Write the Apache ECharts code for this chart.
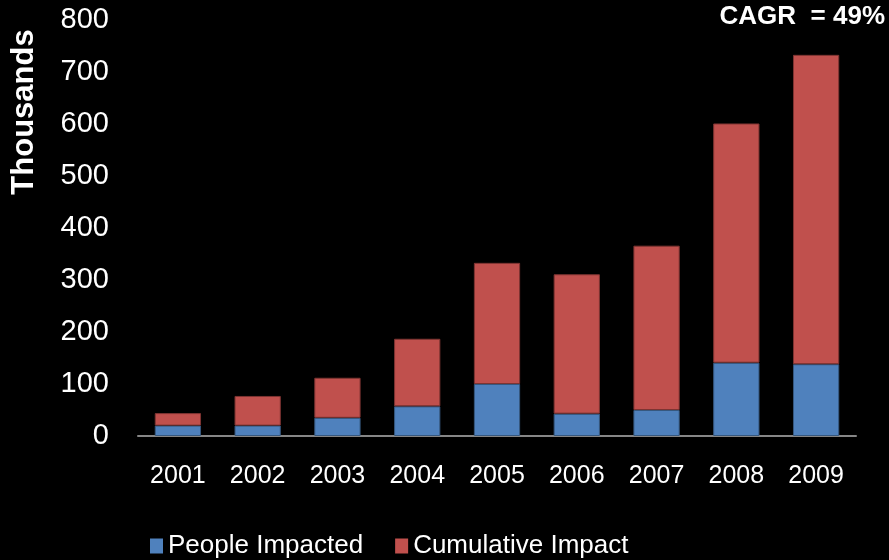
<!DOCTYPE html>
<html>
<head>
<meta charset="utf-8">
<script src="https://cdn.jsdelivr.net/npm/echarts@6/dist/echarts.min.js"></script>
<style>
  html, body { margin: 0; padding: 0; background: #000; }
  #chart { width: 889px; height: 560px; }
</style>
</head>
<body>
<div id="chart"></div>
<script>
// Years on the category axis
const years = ['2001', '2002', '2003', '2004', '2005', '2006', '2007', '2008', '2009'];
// People impacted each year (thousands)
const peopleImpacted = [20, 20, 35, 57, 100, 43, 50, 141, 138];
// Stacked cumulative impact segment (thousands)
const cumulativeImpact = [24, 57, 77, 130, 233, 268, 316, 460, 595];
// Value-axis range
const yMin = 0, yMax = 800, yStep = 100;

const font = 'Liberation Sans, Arial, sans-serif';
const chart = echarts.init(document.getElementById('chart'));

chart.setOption({
  backgroundColor: '#000',
  animation: false,
  textStyle: { fontFamily: font, color: '#fff' },
  grid: { left: 138, right: 33, top: 20, bottom: 124, outerBoundsMode: 'none', containLabel: false },
  legend: {
    left: 145,
    top: 528,
    itemWidth: 13,
    itemHeight: 15,
    itemGap: 32,
    icon: 'rect',
    itemStyle: { borderWidth: 0 },
    textStyle: { color: '#fff', fontSize: 26, fontFamily: font },
    data: ['People Impacted', 'Cumulative Impact']
  },
  xAxis: {
    type: 'category',
    data: years,
    axisLine: { lineStyle: { color: '#868686', width: 2 } },
    axisTick: { show: false },
    axisLabel: { color: '#fff', fontSize: 25, margin: 28, fontFamily: font }
  },
  yAxis: {
    type: 'value',
    min: yMin,
    max: yMax,
    interval: yStep,
    axisLine: { show: false },
    axisTick: { show: false },
    splitLine: { show: false },
    axisLabel: { color: '#fff', fontSize: 29, margin: 29, fontFamily: font }
  },
  series: [
    {
      name: 'People Impacted',
      type: 'bar',
      stack: 'total',
      barWidth: '58%',
      data: peopleImpacted,
      itemStyle: { color: '#4F81BD', borderColor: '#36587f', borderWidth: 1 }
    },
    {
      name: 'Cumulative Impact',
      type: 'bar',
      stack: 'total',
      barWidth: '58%',
      data: cumulativeImpact,
      itemStyle: { color: '#C0504D', borderColor: '#7e3432', borderWidth: 1 }
    }
  ],
  graphic: [
    {
      // vertical axis title
      type: 'text',
      x: 24,
      y: 112,
      rotation: Math.PI / 2,
      style: {
        text: 'Thousands',
        fill: '#fff',
        font: 'bold 31px ' + font,
        align: 'center',
        verticalAlign: 'middle'
      }
    },
    {
      type: 'text',
      right: 4,
      top: 4,
      style: {
        text: 'CAGR  = 49%',
        fill: '#fff',
        font: 'bold 26px ' + font
      }
    }
  ]
});
</script>
</body>
</html>
